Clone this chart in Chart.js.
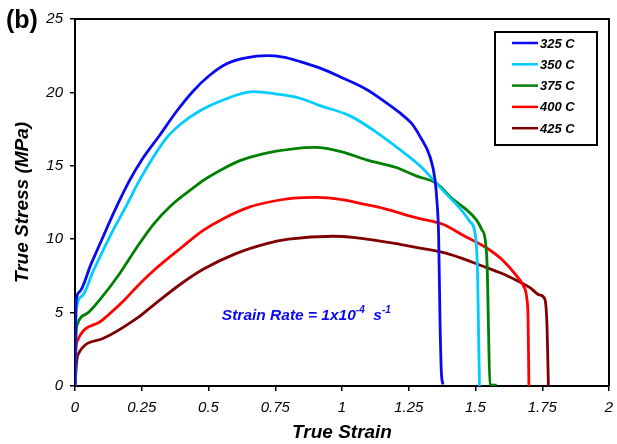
<!DOCTYPE html>
<html>
<head>
<meta charset="utf-8">
<script src="https://cdn.jsdelivr.net/npm/chart.js@4.4.1/dist/chart.umd.min.js"></script>
<style>
    html, body { margin: 0; padding: 0; background: #ffffff; }
    #wrap { width: 617px; height: 444px; }
</style>
</head>
<body>
<div id="wrap"><canvas id="stressChart" width="617" height="444"></canvas></div>
<script>
const seriesLabels = ['325 C', '350 C', '375 C', '400 C', '425 C'];
const seriesColors = ['#0a0af0', '#00ccff', '#008000', '#ff0000', '#800000'];

const strain325 = [0, 0.004, 0.016, 0.06, 0.106, 0.15, 0.206, 0.25, 0.318, 0.38, 0.443, 0.5, 0.568, 0.64, 0.718, 0.78, 0.843, 0.918, 1.0, 1.092, 1.15, 1.217, 1.26, 1.292, 1.33, 1.348, 1.356, 1.362, 1.367, 1.372, 1.378];
const stress325 = [0, 5.7, 6.4, 8.3, 10.2, 12.0, 14.06, 15.4, 17.1, 18.7, 20.1, 21.1, 21.95, 22.35, 22.5, 22.4, 22.1, 21.65, 21.0, 20.2, 19.5, 18.6, 17.9, 17.0, 15.6, 14.1, 12.5, 10.2, 4.55, 1.0, 0.1];

const strain350 = [0, 0.004, 0.025, 0.07, 0.131, 0.19, 0.243, 0.343, 0.4, 0.468, 0.55, 0.668, 0.75, 0.843, 0.918, 1.03, 1.12, 1.217, 1.292, 1.354, 1.4, 1.442, 1.479, 1.5, 1.508, 1.512, 1.515];
const stress350 = [0, 5.0, 6.1, 7.9, 10.2, 12.2, 14.06, 16.9, 17.9, 18.75, 19.45, 20.05, 19.9, 19.6, 19.1, 18.4, 17.4, 16.1, 15.0, 13.8, 12.9, 12.1, 11.2, 10.2, 7.5, 3.0, 0];

const strain375 = [0, 0.004, 0.009, 0.05, 0.094, 0.169, 0.23, 0.293, 0.36, 0.443, 0.48, 0.55, 0.618, 0.7, 0.818, 0.9, 1.0, 1.092, 1.2, 1.28, 1.354, 1.417, 1.46, 1.504, 1.523, 1.536, 1.544, 1.548, 1.554, 1.58];
const stress375 = [0, 3.5, 4.2, 5.0, 5.9, 7.7, 9.4, 11.0, 12.3, 13.5, 14.0, 14.75, 15.35, 15.8, 16.15, 16.25, 15.95, 15.4, 14.9, 14.3, 13.8, 12.7, 12.1, 11.3, 10.67, 10.0, 8.0, 4.55, 0.1, 0.05];

const strain400 = [0, 0.004, 0.009, 0.1, 0.187, 0.231, 0.3, 0.4, 0.48, 0.55, 0.655, 0.718, 0.818, 0.905, 1.0, 1.092, 1.155, 1.28, 1.38, 1.45, 1.542, 1.6, 1.654, 1.68, 1.692, 1.697, 1.7];
const stress400 = [0, 2.6, 3.08, 4.45, 5.9, 6.75, 7.95, 9.45, 10.6, 11.35, 12.2, 12.5, 12.8, 12.85, 12.7, 12.35, 12.1, 11.45, 11.0, 10.3, 9.4, 8.6, 7.5, 6.8, 6.0, 4.5, 0];

const strain425 = [0, 0.006, 0.012, 0.1, 0.231, 0.3, 0.4, 0.48, 0.6, 0.718, 0.8, 0.967, 1.05, 1.217, 1.292, 1.404, 1.542, 1.62, 1.704, 1.74, 1.76, 1.768, 1.773];
const stress425 = [0, 1.6, 2.17, 3.2, 4.6, 5.6, 7.0, 7.95, 9.0, 9.7, 10.0, 10.2, 10.1, 9.65, 9.4, 8.97, 8.06, 7.5, 6.7, 6.2, 5.9, 4.0, 0];

const xTickValues = [0, 0.25, 0.5, 0.75, 1, 1.25, 1.5, 1.75, 2];
const xTickLabels = ['0', '0.25', '0.5', '0.75', '1', '1.25', '1.5', '1.75', '2'];
const yTickValues = [0, 5, 10, 15, 20, 25];
const yTickLabels = ['0', '5', '10', '15', '20', '25'];

const strainSeries = [strain325, strain350, strain375, strain400, strain425];
const stressSeries = [stress325, stress350, stress375, stress400, stress425];

const FONT = '"Liberation Sans", Arial, Helvetica, sans-serif';

function toPoints(xs, ys) {
    return xs.map((x, i) => ({ x, y: ys[i] }));
}

const frameAndNotes = {
    id: 'frameAndNotes',
    afterDraw(chart) {
        const { ctx, chartArea, scales } = chart;

        // top and right edges of the plot frame
        ctx.save();
        ctx.strokeStyle = '#000';
        ctx.lineWidth = 2;
        ctx.beginPath();
        ctx.moveTo(chartArea.left, chartArea.top);
        ctx.lineTo(chartArea.right, chartArea.top);
        ctx.lineTo(chartArea.right, chartArea.bottom);
        ctx.stroke();

        // panel label
        ctx.fillStyle = '#000';
        ctx.font = `bold 25px ${FONT}`;
        ctx.textBaseline = 'middle';
        ctx.textAlign = 'left';
        ctx.fillText('(b)', 6, 21);

        // legend box
        const box = { x: 495, y: 32, w: 102, h: 113 };
        ctx.fillStyle = '#fff';
        ctx.fillRect(box.x, box.y, box.w, box.h);
        ctx.lineWidth = 2;
        ctx.strokeRect(box.x, box.y, box.w, box.h);
        ctx.font = `bold italic 13px ${FONT}`;
        chart.data.datasets.forEach((ds, i) => {
            const rowY = 43 + i * 21.3;
            ctx.strokeStyle = ds.borderColor;
            ctx.lineWidth = 2.5;
            ctx.beginPath();
            ctx.moveTo(512, rowY);
            ctx.lineTo(538, rowY);
            ctx.stroke();
            ctx.fillStyle = '#000';
            ctx.fillText(ds.label, 540, rowY + 1);
        });

        // strain rate note
        const nx = scales.x.getPixelForValue(0.55);
        const ny = scales.y.getPixelForValue(4.5);
        ctx.fillStyle = '#0a0af0';
        ctx.textBaseline = 'alphabetic';
        let cx = nx;
        const parts = [
            ['Strain Rate = 1x10', 15.5, 0],
            ['-4', 10, -7],
            ['  s', 15.5, 0],
            ['-1', 10, -7]
        ];
        parts.forEach(([txt, size, dy]) => {
            ctx.font = `bold italic ${size}px ${FONT}`;
            ctx.fillText(txt, cx, ny + dy);
            cx += ctx.measureText(txt).width;
        });
        ctx.restore();
    }
};

const ctx = document.getElementById('stressChart');

new Chart(ctx, {
    type: 'line',
    data: {
        datasets: seriesLabels.map((label, i) => ({
            label,
            data: toPoints(strainSeries[i], stressSeries[i]),
            borderColor: seriesColors[i],
            backgroundColor: seriesColors[i],
            borderWidth: 2.8,
            pointRadius: 0,
            cubicInterpolationMode: 'monotone',
            fill: false
        }))
    },
    options: {
        responsive: false,
        animation: false,
        layout: {
            padding: { top: 19, right: 8, left: 0, bottom: 0 }
        },
        plugins: {
            legend: { display: false },
            tooltip: { enabled: false }
        },
        scales: {
            x: {
                type: 'linear',
                min: 0,
                max: 2,
                afterBuildTicks(scale) {
                    scale.ticks = xTickValues.map((value) => ({ value }));
                },
                afterFit(scale) {
                    scale.height = 58;
                    scale.paddingRight = 0;
                },
                grid: {
                    drawOnChartArea: false,
                    drawTicks: true,
                    tickLength: 5,
                    color: '#000',
                    lineWidth: 1.5
                },
                border: { display: true, color: '#000', width: 2 },
                ticks: {
                    padding: 8,
                    color: '#000',
                    maxRotation: 0,
                    font: { family: FONT, size: 15, style: 'italic' },
                    callback(value) {
                        const idx = xTickValues.indexOf(value);
                        return idx >= 0 ? xTickLabels[idx] : '';
                    }
                },
                title: {
                    display: true,
                    text: 'True Strain',
                    color: '#000',
                    padding: { top: 0, bottom: 0 },
                    font: { family: FONT, size: 19, style: 'italic', weight: 'bold' }
                }
            },
            y: {
                type: 'linear',
                min: 0,
                max: 25,
                afterBuildTicks(scale) {
                    scale.ticks = yTickValues.map((value) => ({ value }));
                },
                afterFit(scale) {
                    scale.width = 75;
                },
                grid: {
                    drawOnChartArea: false,
                    drawTicks: true,
                    tickLength: 5,
                    color: '#000',
                    lineWidth: 1.5
                },
                border: { display: true, color: '#000', width: 2 },
                ticks: {
                    padding: 7,
                    color: '#000',
                    font: { family: FONT, size: 15, style: 'italic' },
                    callback(value) {
                        const idx = yTickValues.indexOf(value);
                        return idx >= 0 ? yTickLabels[idx] : '';
                    }
                },
                title: {
                    display: true,
                    text: 'True Stress (MPa)',
                    color: '#000',
                    padding: { top: 11, bottom: 0 },
                    font: { family: FONT, size: 19, style: 'italic', weight: 'bold' }
                }
            }
        }
    },
    plugins: [frameAndNotes]
});
</script>
</body>
</html>
